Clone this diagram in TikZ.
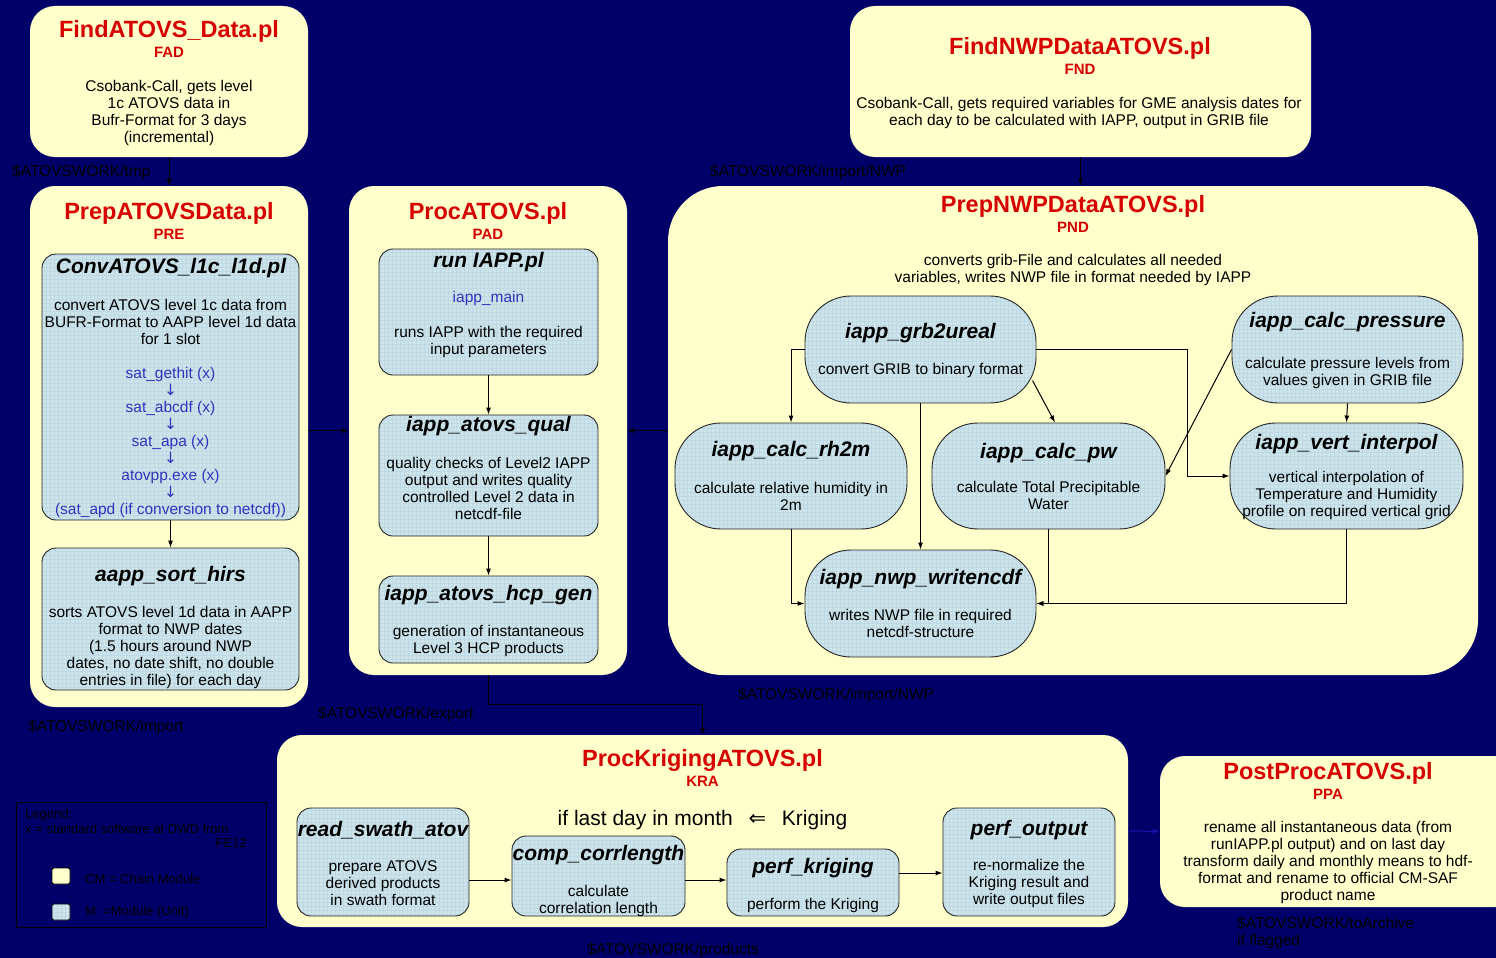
\documentclass[tikz,border=0pt]{standalone}
\usepackage{fontspec}
\setmainfont{Liberation Sans}
\newfontfamily\dejavu{DejaVu Sans}
\usetikzlibrary{arrows.meta}
\definecolor{navy}{RGB}{0,0,104}
\definecolor{ylw}{RGB}{255,255,204}
\definecolor{mblue}{RGB}{205,229,233}
\definecolor{gridc}{RGB}{190,216,229}
\definecolor{rd}{RGB}{214,0,0}
\definecolor{bl}{RGB}{50,50,190}
\definecolor{dblue}{RGB}{20,20,170}
\newcommand{\dnar}{{\dejavu ↓}}
\begin{document}
\begin{tikzpicture}[x=1pt,y=-1pt,
  sz/.style 2 args={minimum width=#1pt, minimum height=#2pt},
  ybox/.style={fill=ylw, draw=none, rounded corners=25pt, inner sep=0pt},
  gridded/.style={path picture={\draw[gridc, line width=0.35pt, step=4pt] (path picture bounding box.south west) grid (path picture bounding box.north east);}},
  mbox/.style={fill=mblue, draw=black!85, line width=0.9pt, rounded corners=14pt, inner sep=0pt, gridded},
  nbox/.style={mbox, rounded corners=46pt},
  ttl/.style={text=rd, font=\fontsize{23.5}{27}\selectfont\bfseries, inner sep=0pt},
  abbr/.style={text=rd, font=\fontsize{15}{17}\selectfont\bfseries, inner sep=0pt},
  txt/.style={font=\fontsize{15.5}{17}\selectfont, align=center, inner sep=0pt},
  mttl/.style={font=\fontsize{21}{24}\selectfont\bfseries\itshape, inner sep=0pt},
  btxt/.style={txt, text=bl},
  plbl/.style={font=\fontsize{15.5}{17}\selectfont, text=black, anchor=west, inner sep=0pt, align=left},
  ltxt/.style={font=\fontsize{13}{14}\selectfont, text=black, inner sep=0pt},
  arr/.style={-{Latex[length=7pt,width=5pt]}, line width=1pt, draw=black}
]
\useasboundingbox (0,0) rectangle (1496,958);
\fill[navy] (0,0) rectangle (1496,958);

% ---- chain modules (yellow)
\node[ybox, sz={278}{151}] (fad) at (169,81.5) {};
\node[ybox, sz={461}{151}] (fnd) at (1080.5,81.5) {};
\node[ybox, sz={278}{521}] (pre) at (169,446.5) {};
\node[ybox, sz={278}{489}] (pad) at (488,430.5) {};
\node[ybox, sz={810}{489}, rounded corners=55pt] (pnd) at (1073,430.5) {};
\node[ybox, sz={851}{192}] (kra) at (702.5,831) {};
\node[ybox, sz={360}{151}] (ppa) at (1340,831.5) {};

% ---- modules (blue)
\node[mbox, sz={257}{266}] (conv) at (170.5,387) {};
\node[mbox, sz={257}{142}] (aapp) at (170.5,619) {};
\node[mbox, sz={219}{126}] (run) at (488.5,312) {};
\node[mbox, sz={219}{121}] (qual) at (488.5,475.5) {};
\node[mbox, sz={219}{87}] (hcp) at (488.5,619.5) {};
\node[nbox, sz={231}{107}] (grb) at (920.5,349.5) {};
\node[nbox, sz={231}{107}] (pr) at (1347.5,349.5) {};
\node[nbox, sz={232}{106}] (rh) at (791,476) {};
\node[nbox, sz={233}{106}] (pw) at (1048.5,476) {};
\node[nbox, sz={233}{106}] (vi) at (1346.5,476) {};
\node[nbox, sz={231}{107}] (nwp) at (920.5,603.5) {};
\node[mbox, sz={172}{108}] (read) at (383,862) {};
\node[mbox, sz={173}{80}] (comp) at (598.5,876) {};
\node[mbox, sz={172}{67}] (pk) at (813,882.5) {};
\node[mbox, sz={172}{108}] (po) at (1029,862) {};

% ---- connectors
\draw[arr] (fad.south) -- (pre.north);
\draw[arr] (fnd.south) -- (fnd.south |- pnd.north);
\draw[arr] (pre.east |- pad.west) -- (pad.west);
\draw[arr] (pnd.west) -- (pad.east);
\draw[arr] (conv.south) -- (aapp.north);
\draw[arr] (run.south) -- (qual.north);
\draw[arr] (qual.south) -- (hcp.north);
\draw[arr] (grb.west) -| (rh.north);
\draw[arr] (grb.east) -- ++(151,0) |- (vi.west);
\draw[arr] ([shift={(112,31)}]grb.center) -- ([xshift=6.5pt]pw.north);
\draw[arr] (grb.south) -- (nwp.north);
\draw[arr] (pr.west) -- (pw.east);
\draw[arr] (pr.south) -- (vi.north);
\draw[arr] (rh.south) |- (nwp.west);
\draw[arr] (pw.south) |- (nwp.east);
\draw[arr] (vi.south) |- (nwp.east);
\draw[arr] (pad.south) -- ++(0,29) -| (kra.north);
\coordinate (cin) at ([yshift=-4pt]comp.west);
\draw[arr] (read.east |- cin) -- (cin);
\draw[arr] (cin -| comp.east) -- (cin -| pk.west);
\coordinate (pkout) at ([yshift=9.5pt]pk.east);
\draw[arr] (pkout) -- (pkout -| po.west);
\draw[arr, draw=dblue, -{Latex[length=7pt,width=5pt]}] (kra.east) -- (ppa.west);

% ---- FAD
\node[ttl] (fadT) at (169,31) {FindATOVS\_Data.pl};
\node[abbr] (fadA) at (169,52) {FAD};
\node[txt] (fadX) at (169,112.5) {Csobank-Call, gets level\\1c ATOVS data in\\Bufr-Format for 3 days\\(incremental)};
% ---- FND
\node[ttl] (fndT) at (1080,48) {FindNWPDataATOVS.pl};
\node[abbr] (fndA) at (1080,69) {FND};
\node[txt] (fndX) at (1079,112.5) {Csobank-Call, gets required variables for GME analysis dates for\\each day to be calculated with IAPP, output in GRIB file};
% ---- PRE
\node[ttl] (preT) at (169,213) {PrepATOVSData.pl};
\node[abbr] (preA) at (169,234) {PRE};
\node[mttl] (convT) at (171,268) {ConvATOVS\_l1c\_l1d.pl};
\node[txt] (convX) at (170.5,322) {convert ATOVS level 1c data from\\BUFR-Format to AAPP level 1d data\\for 1 slot};
\node[btxt] (convB) at (170.5,442.5) {sat\_gethit (x)\\\dnar\\sat\_abcdf (x)\\\dnar\\sat\_apa (x)\\\dnar\\atovpp.exe (x)\\\dnar\\(sat\_apd (if conversion to netcdf))};
\node[mttl] (aappT) at (170.5,576) {aapp\_sort\_hirs};
\node[txt] (aappX) at (170.5,647) {sorts ATOVS level 1d data in AAPP\\format to NWP dates\\(1.5 hours around NWP\\dates, no date shift, no double\\entries in file) for each day};
% ---- PAD
\node[ttl] (padT) at (488,213) {ProcATOVS.pl};
\node[abbr] (padA) at (488,234) {PAD};
\node[mttl] (runT) at (488.5,262) {run IAPP.pl};
\node[btxt] (runB) at (488.5,298) {iapp\_main};
\node[txt] (runX) at (488.5,341.5) {runs IAPP with the required\\input parameters};
\node[mttl] (qualT) at (488.5,426) {iapp\_atovs\_qual};
\node[txt] (qualX) at (488.5,488) {quality checks of Level2 IAPP\\output and writes quality\\controlled Level 2 data in\\netcdf-file};
\node[mttl] (hcpT) at (488.5,595) {iapp\_atovs\_hcp\_gen};
\node[txt] (hcpX) at (488.5,640.5) {generation of instantaneous\\Level 3 HCP products};
% ---- PND
\node[ttl] (pndT) at (1073,206) {PrepNWPDataATOVS.pl};
\node[abbr] (pndA) at (1073,227) {PND};
\node[txt] (pndX) at (1073,269.5) {converts grib-File and calculates all needed\\variables, writes NWP file in format needed by IAPP};
\node[mttl] (grbT) at (920.5,333) {iapp\_grb2ureal};
\node[txt] (grbX) at (920.5,370) {convert GRIB to binary format};
\node[mttl] (prT) at (1347.5,322) {iapp\_calc\_pressure};
\node[txt] (prX) at (1347.5,373) {calculate pressure levels from\\values given in GRIB file};
\node[mttl] (rhT) at (791,451) {iapp\_calc\_rh2m};
\node[txt] (rhX) at (791,496.5) {calculate relative humidity in\\2m};
\node[mttl] (pwT) at (1048.5,453) {iapp\_calc\_pw};
\node[txt] (pwX) at (1048.5,495.5) {calculate Total Precipitable\\Water};
\node[mttl] (viT) at (1346.5,444) {iapp\_vert\_interpol};
\node[txt] (viX) at (1346.5,495) {vertical interpolation of\\Temperature and Humidity\\profile on required vertical grid};
\node[mttl] (nwpT) at (920.5,579) {iapp\_nwp\_writencdf};
\node[txt] (nwpX) at (920.5,623.5) {writes NWP file in required\\netcdf-structure};
% ---- KRA
\node[ttl] (kraT) at (702.5,760) {ProcKrigingATOVS.pl};
\node[abbr] (kraA) at (702.5,781) {KRA};
\node[font=\fontsize{21}{24}\selectfont, inner sep=0pt] (cond) at (702.5,820) {if last day in month\hspace{0.75em}{\dejavu ⇐}\hspace{0.75em}Kriging};
\node[mttl] (readT) at (383,830) {read\_swath\_atov};
\node[txt] (readX) at (383,883) {prepare ATOVS\\derived products\\in swath format};
\node[mttl] (compT) at (598.5,855) {comp\_corrlength};
\node[txt] (compX) at (598.5,900.5) {calculate\\correlation length};
\node[mttl] (pkT) at (813,868) {perf\_kriging};
\node[txt] (pkX) at (813,905) {perform the Kriging};
\node[mttl] (poT) at (1029,830) {perf\_output};
\node[txt] (poX) at (1029,883) {re-normalize the\\Kriging result and\\write output files};
% ---- PPA
\node[ttl] (ppaT) at (1328,773) {PostProcATOVS.pl};
\node[abbr] (ppaA) at (1328,794) {PPA};
\node[txt] (ppaX) at (1328,862) {rename all instantaneous data (from\\runIAPP.pl output) and on last day\\transform daily and monthly means to hdf-\\format and rename to official CM-SAF\\product name};

% ---- path labels
\node[plbl] (l1) at (12,172) {\$ATOVSWORK/tmp};
\node[plbl] (l2) at (710,172) {\$ATOVSWORK/import/NWP};
\node[plbl] (l3) at (738,695) {\$ATOVSWORK/import/NWP};
\node[plbl] (l4) at (28,727) {\$ATOVSWORK/import};
\node[plbl] (l5) at (318,714) {\$ATOVSWORK/export};
\node[plbl] (l6) at (587,950) {\$ATOVSWORK/products};
\node[plbl] (l7) at (1237,932.5) {\$ATOVSWORK/toArchive\\if flagged};

% ---- legend
\node[draw=black, line width=0.8pt, sz={250}{125}, inner sep=0pt] (leg) at (141,864.5) {};
\node[ltxt, anchor=west] (lg1) at (25,815) {Legend:};
\node[ltxt, anchor=west] (lg2) at (25,829) {x = standard software at DWD from};
\node[ltxt, anchor=east] (lg3) at (247,843) {FE12};
\node[fill=ylw, draw=black, line width=0.8pt, rounded corners=2pt, sz={18}{16}, inner sep=0pt] (ls1) at (61,876) {};
\node[fill=mblue, draw=black, line width=0.8pt, rounded corners=2pt, sz={18}{16}, inner sep=0pt, gridded] (ls2) at (61,912) {};
\node[ltxt, anchor=west] (lg4) at (85,879) {CM = Chain Module};
\node[ltxt, anchor=west] (lg5) at (85,912) {M\ \ =Module (Unit)};
\end{tikzpicture}
\end{document}
